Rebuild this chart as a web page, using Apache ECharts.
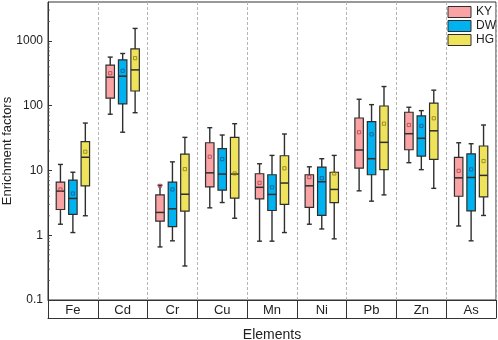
<!DOCTYPE html>
<html>
<head>
<meta charset="utf-8">
<script src="https://cdn.jsdelivr.net/npm/echarts@6/dist/echarts.min.js"></script>
<style>
  html, body { margin: 0; padding: 0; background: #fff; }
  #main { width: 498px; height: 340px; }
</style>
</head>
<body>
<div id="main"></div>
<script>
// categories and groups
const elements = ['Fe', 'Cd', 'Cr', 'Cu', 'Mn', 'Ni', 'Pb', 'Zn', 'As']
const groups = ['KY', 'DW', 'HG']

// [min, Q1, median, Q3, max] per element
const kyStats = [
    [1.48, 2.5, 4.8, 6.6, 12.4],
    [74, 131, 276, 424, 564],
    [0.66, 1.65, 2.25, 4.2, 5.9],
    [2.65, 5.6, 9.2, 26.8, 45.8],
    [0.81, 3.65, 5.5, 8.9, 12.7],
    [1.48, 2.69, 5.8, 8.6, 11.4],
    [4.85, 10.9, 20.7, 64.7, 126],
    [13.2, 20.9, 37, 79.3, 94.8],
    [1.39, 4.0, 7.7, 16, 26.8],
]
const dwStats = [
    [1.1, 2.1, 3.7, 7.1, 9.4],
    [39, 107, 286, 512, 641],
    [0.82, 1.36, 2.56, 6.6, 13.6],
    [3.2, 4.97, 8.8, 21.7, 35.3],
    [0.81, 2.41, 4.27, 8.6, 17.1],
    [1.25, 2.02, 6.7, 11.3, 15.2],
    [3.36, 8.6, 15.2, 56.7, 104],
    [10.3, 16.7, 31.4, 69.5, 84],
    [0.82, 2.38, 7.8, 18.1, 25.9],
]
const hgStats = [
    [2.0, 5.8, 16, 28, 54],
    [78, 169, 358, 757, 1563],
    [0.335, 2.35, 4.3, 17.9, 32.5],
    [1.83, 3.74, 8.8, 32.5, 52.8],
    [1.1, 2.99, 6.4, 16.9, 36.6],
    [0.88, 3.2, 5.1, 9.4, 17.1],
    [4.2, 10.3, 27.2, 99, 198],
    [5.3, 14.9, 41, 110, 174],
    [2.02, 3.9, 8.4, 23.9, 50.4],
]

// means (small open squares)
const kyMean = [5.1, 318, 5.8, 16.3, 6.45, 7.9, 38.9, 50.4, 9.9]
const dwMean = [4.4, 346, 5.1, 15, 5.5, 7.6, 36.2, 49, 10.4]
const hgMean = [19.5, 543, 10.5, 9, 10.8, 9.0, 52.8, 64, 14]

// y axis
const yTickLabels = [0.1, 1, 10, 100, 1000]
const yMin = 0.1
const yMax = 4000

const fills = ['#f9a3a5', '#00b2ef', '#f0e35c']
const meanColors = ['#b04448', '#0b5c96', '#8a7c18']
const edge = '#2e2e2e'
const font = 'Liberation Sans, Arial, sans-serif'

const myChart = echarts.init(document.getElementById('main'), null, { renderer: 'canvas' })

function buildData(stats, means) {
    return stats.map((s, i) => [i, s[0], s[1], s[2], s[3], s[4], means[i]])
}

function renderBox(params, api) {
    const gi = params.seriesIndex
    const cat = api.value(0)
    const band = api.size([1, 0])[0]
    const cx = api.coord([cat, 1])[0] + (gi - 1) * band * 0.25
    const half = band * 0.085
    const cap = band * 0.05
    const y = (k) => api.coord([cat, api.value(k)])[1]
    const yMinW = y(1), yQ1 = y(2), yMed = y(3), yQ3 = y(4), yMaxW = y(5), yMean = y(6)
    const line = (x1, y1, x2, y2, w) => ({
        type: 'line',
        shape: { x1, y1, x2, y2 },
        style: { stroke: edge, lineWidth: w },
    })
    return {
        type: 'group',
        children: [
            line(cx, yMaxW, cx, yMinW, 1.4),
            line(cx - cap, yMaxW, cx + cap, yMaxW, 1.4),
            line(cx - cap, yMinW, cx + cap, yMinW, 1.4),
            {
                type: 'rect',
                shape: { x: cx - half, y: yQ3, width: half * 2, height: yQ1 - yQ3 },
                style: { fill: fills[gi], stroke: edge, lineWidth: 1.2 },
            },
            line(cx - half, yMed, cx + half, yMed, 1.5),
            {
                type: 'rect',
                shape: { x: cx - 1.6, y: yMean - 1.6, width: 3.2, height: 3.2 },
                style: { fill: 'none', stroke: meanColors[gi], lineWidth: 0.8 },
            },
        ],
    }
}

// minor ticks of the log axis (2..9 in each decade)
const minorTicks = []
for (let d = -1; d <= 3; d++) {
    for (let m = 2; m <= 9; m++) {
        const v = m * Math.pow(10, d)
        if (v < yMax) minorTicks.push(v)
    }
}

const seriesList = [
    { name: 'KY', data: buildData(kyStats, kyMean) },
    { name: 'DW', data: buildData(dwStats, dwMean) },
    { name: 'HG', data: buildData(hgStats, hgMean) },
].map((s, i) => ({
    type: 'custom',
    name: s.name,
    data: s.data,
    encode: { x: 0, y: [1, 2, 3, 4, 5, 6] },
    renderItem: renderBox,
    itemStyle: { color: fills[i], borderColor: edge, borderWidth: 1 },
    z: 3,
}))

seriesList.push({
    type: 'custom',
    silent: true,
    clip: false,
    data: minorTicks.map((v) => [0, v]),
    encode: { x: 0, y: 1 },
    renderItem: (params, api) => {
        const yy = api.coord([0, api.value(1)])[1]
        const x0 = params.coordSys.x
        return {
            type: 'line',
            shape: { x1: x0, y1: yy, x2: x0 + 2, y2: yy },
            style: { stroke: '#555', lineWidth: 0.8 },
        }
    },
    z: 4,
})

const option = {
    animation: false,
    textStyle: { fontFamily: font },
    grid: {
        left: 48,
        right: 2,
        top: 2,
        bottom: 40,
        outerBoundsMode: 'none',
        show: true,
        borderColor: '#333',
        borderWidth: 1,
    },
    legend: {
        data: groups,
        orient: 'vertical',
        right: 2,
        top: 6,
        padding: 0,
        icon: 'rect',
        itemWidth: 23,
        itemHeight: 11,
        itemGap: 2,
        textStyle: { fontSize: 12, color: '#222', fontFamily: font },
        itemStyle: { borderColor: edge, borderWidth: 1 },
    },
    xAxis: [{
        type: 'category',
        data: elements,
        position: 'bottom',
        boundaryGap: true,
        axisLine: { lineStyle: { color: '#333', width: 1 } },
        axisTick: { show: true, interval: 0, inside: false, length: 18, lineStyle: { color: '#333' } },
        axisLabel: { interval: 0, margin: 4, fontSize: 13, color: '#222' },
        splitLine: { show: true, interval: 0, lineStyle: { color: '#b5b5b5', type: [3, 2] } },
        name: 'Elements',
        nameLocation: 'middle',
        nameGap: 28,
        nameMoveOverlap: false,
        nameTextStyle: { fontSize: 14, color: '#222' },
    }, {
        type: 'category',
        data: elements,
        position: 'bottom',
        offset: 18,
        axisLine: { lineStyle: { color: '#333', width: 1 } },
        axisTick: { show: false },
        axisLabel: { show: false },
        splitLine: { show: false },
    }],
    yAxis: {
        type: 'log',
        logBase: 10,
        min: yMin,
        max: yMax,
        axisLine: { show: true, lineStyle: { color: '#333' } },
        axisTick: { show: true, inside: true, length: 4, lineStyle: { color: '#333' } },
        axisLabel: {
            fontSize: 12,
            color: '#222',
            margin: 5,
            showMaxLabel: false,
            formatter: (v) => {
                const t = yTickLabels.find((k) => Math.abs(Math.log10(k) - Math.log10(v)) < 1e-6)
                return t === undefined ? '' : String(t)
            },
        },
        splitLine: { show: false },
        name: 'Enrichment factors',
        nameLocation: 'middle',
        nameGap: 34,
        nameMoveOverlap: false,
        nameTextStyle: { fontSize: 13, color: '#222' },
    },
    series: seriesList,
}

myChart.setOption(option)
</script>
</body>
</html>
